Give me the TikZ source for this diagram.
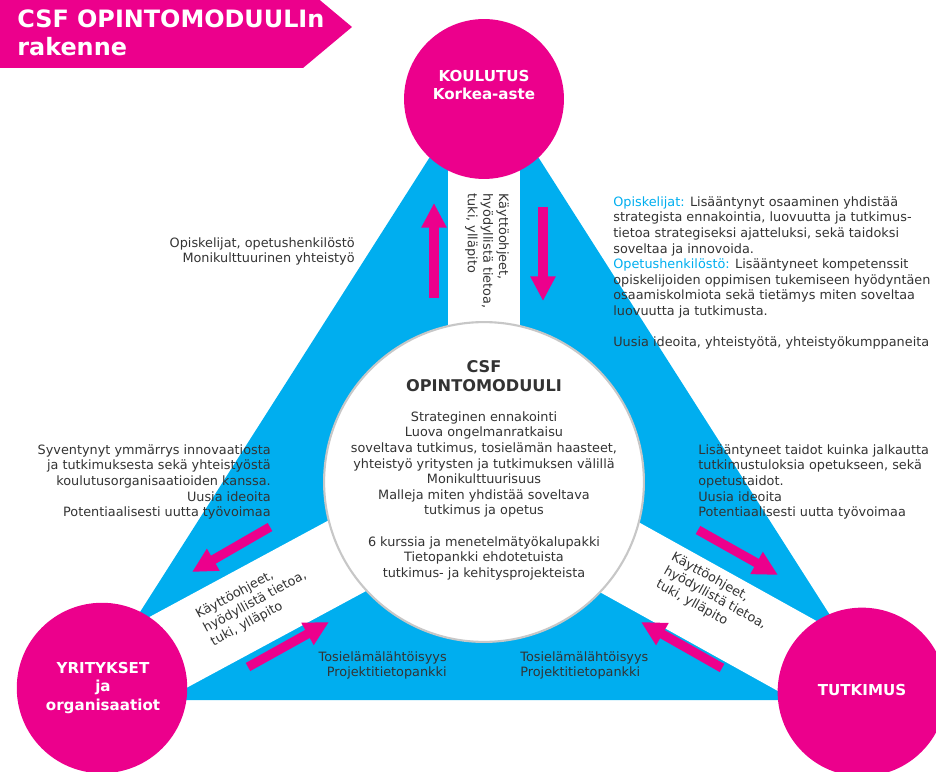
\documentclass[tikz,border=0pt]{standalone}
\usepackage{fontspec}
\setmainfont{DejaVu Sans}
\usetikzlibrary{arrows.meta,backgrounds}

\definecolor{csfpink}{HTML}{EC008C}
\definecolor{csfblue}{HTML}{00AEEF}
\definecolor{csftext}{HTML}{333333}

\begin{document}
\begin{tikzpicture}[x=0.2mm, y=-0.2mm,
  plain/.style={font=\fontsize{7.3}{8.9}\selectfont, text=csftext, inner sep=0pt},
  hub/.style={circle, fill=csfpink, draw=none, inner sep=0pt},
  hubtext/.style={font=\bfseries\fontsize{8.6}{10.8}\selectfont, text=white, align=center, inner sep=0pt},
  band/.style={draw=white, line width=45.5pt},
  push/.style={draw=csfpink, line width=5.3pt, -{Triangle[length=14pt, width=13.5pt]}}]

\useasboundingbox (0,0) rectangle (936,772);

% Title banner
\fill[csfpink] (0,-14) -- (303,-14) -- (352,27) -- (303,68) -- (0,68) -- cycle;
\node[anchor=north west, inner sep=0pt, align=left, text=white,
  font=\bfseries\fontsize{13.6}{15.9}\selectfont] (title) at (17,9) {CSF OPINTOMODUULIn\\rakenne};

% Corner circles and the module circle
\node[hub, minimum size=91pt] (K) at (484,99) {};
\node[hub, minimum size=97pt] (Y) at (102,688) {};
\node[hub, minimum size=96pt] (T) at (862,692) {};
\node[circle, fill=white, draw=black!22, line width=1.2pt, minimum size=182pt] (C) at (484,482) {};

% Triangle and white bands - behind the circles
\begin{scope}[on background layer]
\fill[csfblue] (484,72) -- (84,700) -- (884,700) -- cycle;
\draw[band, line width=41pt] (C.center) -- (K.center);
\draw[band] (C.center) -- (Y.center);
\draw[band] (C.center) -- (T.center);
\end{scope}

% Circle labels
\node[hubtext] (Kt) at (484,85) {KOULUTUS\\Korkea-aste};
\node[hubtext] (Yt) at (103,688) {YRITYKSET\\ja\\organisaatiot};
\node[hubtext] (Tt) at (862,690) {TUTKIMUS};

% Module text
\node[anchor=north, inner sep=0pt, align=center, text=csftext,
  font=\bfseries\fontsize{9.2}{10.8}\selectfont] (Ctitle) at (484,360) {CSF\\OPINTOMODUULI};
\node[plain, anchor=north, align=center] (Cbody) at (484,411) {Strateginen ennakointi\\Luova ongelmanratkaisu\\soveltava tutkimus, tosielämän haasteet,\\yhteistyö yritysten ja tutkimuksen välillä\\Monikulttuurisuus\\Malleja miten yhdistää soveltava\\tutkimus ja opetus\\[8.9pt]6 kurssia ja menetelmätyökalupakki\\Tietopankki ehdotetuista\\tutkimus- ja kehitysprojekteista};

% Band texts
\node[plain, align=left, rotate=-90] (Kband) at (487,251) {Käyttöohjeet,\\hyödyllistä tietoa,\\tuki, ylläpito};
\node[plain, align=left, rotate=28.5] (Yband) at (255,602) {Käyttöohjeet,\\hyödyllistä tietoa,\\tuki, ylläpito};
\node[plain, align=left, rotate=-29] (Tband) at (715,598) {Käyttöohjeet,\\hyödyllistä tietoa,\\tuki, ylläpito};

% Side texts
\node[plain, anchor=north east, align=right] (Lup) at (355,237) {Opiskelijat, opetushenkilöstö\\Monikulttuurinen yhteistyö};
\node[plain, anchor=north west, align=left] (Rup) at (613,196) {\textcolor{csfblue}{Opiskelijat:} Lisääntynyt osaaminen yhdistää\\strategista ennakointia, luovuutta ja tutkimus-\\tietoa strategiseksi ajatteluksi, sekä taidoksi\\soveltaa ja innovoida.\\\textcolor{csfblue}{Opetushenkilöstö:} Lisääntyneet kompetenssit\\opiskelijoiden oppimisen tukemiseen hyödyntäen\\osaamiskolmiota sekä tietämys miten soveltaa\\luovuutta ja tutkimusta.\\[8.9pt]Uusia ideoita, yhteistyötä, yhteistyökumppaneita};
\node[plain, anchor=north east, align=right] (Lmid) at (271,444) {Syventynyt ymmärrys innovaatiosta\\ja tutkimuksesta sekä yhteistyöstä\\koulutusorganisaatioiden kanssa.\\Uusia ideoita\\Potentiaalisesti uutta työvoimaa};
\node[plain, anchor=north west, align=left] (Rmid) at (698,444) {Lisääntyneet taidot kuinka jalkautta\\tutkimustuloksia opetukseen, sekä\\opetustaidot.\\Uusia ideoita\\Potentiaalisesti uutta työvoimaa};
\node[plain, anchor=north east, align=right] (Lbot) at (447,651) {Tosielämälähtöisyys\\Projektitietopankki};
\node[plain, anchor=north west, align=left] (Rbot) at (520,651) {Tosielämälähtöisyys\\Projektitietopankki};

% Arrows - top band
\coordinate (k1) at (434,298); \coordinate (k2) at (434,203);
\coordinate (k3) at (543,207); \coordinate (k4) at (543,301);
\draw[push] (k1) -- (k2);
\draw[push] (k3) -- (k4);

% Arrows - left band
\coordinate (y1) at (270,527); \coordinate (y2) at (192,572);
\coordinate (y3) at (248,667); \coordinate (y4) at (329,622);
\draw[push] (y1) -- (y2);
\draw[push] (y3) -- (y4);

% Arrows - right band
\coordinate (t1) at (698,530); \coordinate (t2) at (778,575);
\coordinate (t3) at (722,668); \coordinate (t4) at (641,622);
\draw[push] (t1) -- (t2);
\draw[push] (t3) -- (t4);

\end{tikzpicture}
\end{document}
